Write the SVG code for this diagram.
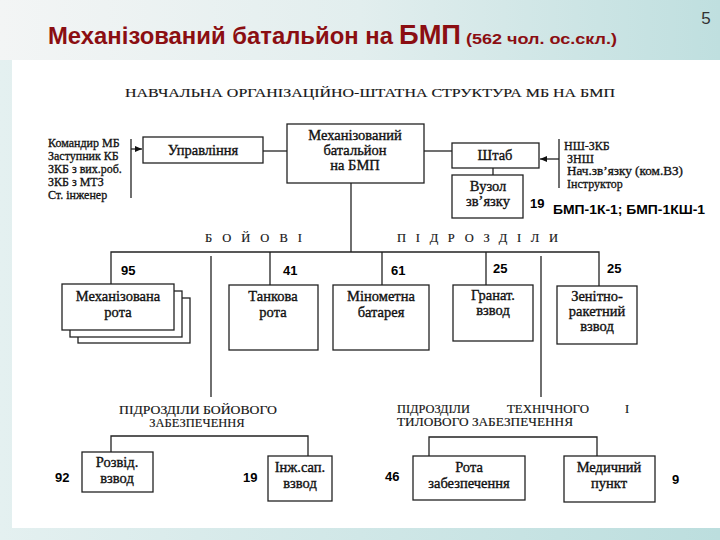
<svg xmlns="http://www.w3.org/2000/svg" width="720" height="540" viewBox="0 0 720 540">
<defs>
<linearGradient id="bg" x1="0" y1="0" x2="1" y2="0">
<stop offset="0" stop-color="#f3f5f5"/>
<stop offset="0.5" stop-color="#e2eeee"/>
<stop offset="1" stop-color="#bfdfdf"/>
</linearGradient>
<linearGradient id="bgb" x1="0" y1="0" x2="1" y2="0">
<stop offset="0" stop-color="#e4f0f0"/>
<stop offset="1" stop-color="#bcdede"/>
</linearGradient>
<marker id="arr" markerWidth="8" markerHeight="8" refX="7" refY="4" orient="auto" markerUnits="userSpaceOnUse">
<path d="M0,1 L7,4 L0,7 Z" fill="#111"/>
</marker>
<style>
.box{fill:#fff;stroke:#222;stroke-width:1.3}
.ln{fill:none;stroke:#222;stroke-width:1.3}
.t{font-family:"Liberation Serif","DejaVu Serif",serif;font-size:14.5px;fill:#111;stroke:#111;stroke-width:0.35;text-anchor:middle}
.l{font-family:"Liberation Serif","DejaVu Serif",serif;font-size:12px;fill:#111;stroke:#111;stroke-width:0.3}
.h{font-family:"Liberation Serif","DejaVu Serif",serif;font-size:12.5px;fill:#151515;stroke:#151515;stroke-width:0.15}
.n{font-family:"Liberation Sans",Arial,sans-serif;font-size:13px;font-weight:bold;fill:#000}
</style>
</defs>
<rect x="0" y="0" width="720" height="540" fill="url(#bgb)"/>
<rect x="0" y="0" width="720" height="60" fill="url(#bg)"/>
<rect x="12" y="60" width="708" height="468" fill="#fff"/>

<g id="title">
<text x="48" y="44" font-family="Liberation Sans,Arial,sans-serif" font-weight="bold" font-size="23" fill="#8b0e12" textLength="345" lengthAdjust="spacingAndGlyphs">Механізований батальйон на</text>
<text x="399" y="44" font-family="Liberation Sans,Arial,sans-serif" font-weight="bold" font-size="28" fill="#8b0e12" textLength="62" lengthAdjust="spacingAndGlyphs">БМП</text>
<text x="466" y="44" font-family="Liberation Sans,Arial,sans-serif" font-weight="bold" font-size="15.5" fill="#8b0e12" textLength="151" lengthAdjust="spacingAndGlyphs">(562 чол. ос.скл.)</text>
<text x="706" y="24" font-family="Liberation Sans,Arial,sans-serif" font-size="17" fill="#333" text-anchor="middle">5</text>
<text x="125" y="97" class="h" font-size="13" textLength="490" lengthAdjust="spacingAndGlyphs">НАВЧАЛЬНА ОРГАНІЗАЦІЙНО-ШТАТНА СТРУКТУРА МБ НА БМП</text>
</g>

<g id="connectors">
<line class="ln" x1="131" y1="139" x2="131" y2="198"/>
<line class="ln" x1="131" y1="149" x2="142" y2="149" marker-end="url(#arr)"/>
<line class="ln" x1="263" y1="151" x2="287" y2="151"/>
<line class="ln" x1="424" y1="151" x2="452" y2="151"/>
<line class="ln" x1="559" y1="139" x2="559" y2="188"/>
<line class="ln" x1="559" y1="159" x2="540" y2="159" marker-end="url(#arr)"/>
<line class="ln" x1="493" y1="168" x2="493" y2="175"/>
<line class="ln" x1="351" y1="183" x2="351" y2="252"/>
<polyline class="ln" points="111,284 111,252 599,252 599,286"/>
<line class="ln" x1="270" y1="252" x2="270" y2="285"/>
<line class="ln" x1="382" y1="252" x2="382" y2="285"/>
<line class="ln" x1="486" y1="252" x2="486" y2="285"/>
<line class="ln" x1="211" y1="256" x2="211" y2="397"/>
<line class="ln" x1="541" y1="256" x2="541" y2="397"/>
<polyline class="ln" points="111,452 111,436 308,436 308,456"/>
<polyline class="ln" points="429,456 429,437 597,437 597,456"/>
</g>

<g id="staff-left">
<text class="l" x="48" y="147" font-size="12.5">Командир МБ</text>
<text class="l" x="48" y="160" font-size="12.5">Заступник КБ</text>
<text class="l" x="48" y="173" font-size="12.5">ЗКБ з вих.роб.</text>
<text class="l" x="48" y="186" font-size="12.5">ЗКБ з МТЗ</text>
<text class="l" x="48" y="199" font-size="12.5">Ст. інженер</text>
</g>

<g id="upravlinnia">
<rect class="box" x="143" y="137" width="120" height="26"/>
<text class="t" x="203" y="155">Управління</text>
</g>

<g id="battalion">
<rect class="box" x="287" y="124" width="137" height="59"/>
<text class="t" x="355" y="140">Механізований</text>
<text class="t" x="355" y="155">батальйон</text>
<text class="t" x="355" y="170">на БМП</text>
</g>

<g id="shtab">
<rect class="box" x="452" y="143" width="87" height="25"/>
<text class="t" x="495" y="160">Штаб</text>
</g>

<g id="staff-right">
<text class="l" x="564" y="150">НШ-ЗКБ</text>
<text class="l" x="567" y="162.5">ЗНШ</text>
<text class="l" x="567" y="175" textLength="116" lengthAdjust="spacingAndGlyphs">Нач.зв’язку (ком.ВЗ)</text>
<text class="l" x="567" y="187.5">Інструктор</text>
</g>

<g id="vuzol">
<rect class="box" x="452" y="175" width="71" height="43"/>
<text class="t" x="488" y="191">Вузол</text>
<text class="t" x="488" y="206">зв’язку</text>
<text class="n" x="530" y="208">19</text>
<text class="n" x="553" y="214" font-size="13.5" textLength="152" lengthAdjust="spacingAndGlyphs">БМП-1К-1; БМП-1КШ-1</text>
</g>

<g id="combat-label">
<text class="h" x="205" y="242" font-size="13" textLength="97" lengthAdjust="spacing">БОЙОВІ</text>
<text class="h" x="397" y="242" font-size="13" textLength="161" lengthAdjust="spacing">ПІДРОЗДІЛИ</text>
</g>

<g id="mech-company">
<rect class="box" x="78" y="298" width="112" height="45"/>
<rect class="box" x="70" y="291" width="112" height="46"/>
<rect class="box" x="62" y="284" width="112" height="46"/>
<text class="t" x="118" y="301">Механізована</text>
<text class="t" x="118" y="317">рота</text>
<text class="n" x="121" y="275">95</text>
</g>

<g id="tank-company">
<rect class="box" x="229" y="285" width="89" height="65"/>
<text class="t" x="273" y="301">Танкова</text>
<text class="t" x="273" y="317">рота</text>
<text class="n" x="283" y="275">41</text>
</g>

<g id="mortar-battery">
<rect class="box" x="333" y="285" width="96" height="65"/>
<text class="t" x="381" y="301">Мінометна</text>
<text class="t" x="381" y="317">батарея</text>
<text class="n" x="391" y="275">61</text>
</g>

<g id="grenade-platoon">
<rect class="box" x="453" y="285" width="80" height="56"/>
<text class="t" x="493" y="300">Гранат.</text>
<text class="t" x="493" y="315">взвод</text>
<text class="n" x="493" y="273">25</text>
</g>

<g id="aa-platoon">
<rect class="box" x="557" y="286" width="80" height="58"/>
<text class="t" x="597" y="301">Зенітно-</text>
<text class="t" x="597" y="316">ракетний</text>
<text class="t" x="597" y="331">взвод</text>
<text class="n" x="607" y="273">25</text>
</g>

<g id="combat-support-label">
<text class="h" x="119" y="414" font-size="12" textLength="158" lengthAdjust="spacingAndGlyphs">ПІДРОЗДІЛИ БОЙОВОГО</text>
<text class="h" x="197" y="427" text-anchor="middle" font-size="12">ЗАБЕЗПЕЧЕННЯ</text>
</g>

<g id="recon-platoon">
<rect class="box" x="82" y="452" width="71" height="40"/>
<text class="t" x="117" y="467">Розвід.</text>
<text class="t" x="117" y="483">взвод</text>
<text class="n" x="55" y="482">92</text>
</g>

<g id="engineer-platoon">
<rect class="box" x="268" y="456" width="64" height="45"/>
<text class="t" x="300" y="472">Інж.сап.</text>
<text class="t" x="300" y="488">взвод</text>
<text class="n" x="243" y="482">19</text>
</g>

<g id="logistics-label">
<text class="h" x="397" y="413" font-size="12" textLength="73" lengthAdjust="spacingAndGlyphs">ПІДРОЗДІЛИ</text>
<text class="h" x="507" y="413" font-size="12" textLength="82" lengthAdjust="spacingAndGlyphs">ТЕХНІЧНОГО</text>
<text class="h" x="625" y="413" font-size="12">І</text>
<text class="h" x="397" y="426" font-size="12" textLength="176" lengthAdjust="spacingAndGlyphs">ТИЛОВОГО ЗАБЕЗПЕЧЕННЯ</text>
</g>

<g id="supply-company">
<rect class="box" x="413" y="456" width="112" height="44"/>
<text class="t" x="469" y="472">Рота</text>
<text class="t" x="469" y="488">забезпечення</text>
<text class="n" x="385" y="481">46</text>
</g>

<g id="medical-point">
<rect class="box" x="564" y="456" width="91" height="46"/>
<text class="t" x="609" y="472">Медичний</text>
<text class="t" x="609" y="488">пункт</text>
<text class="n" x="672" y="484">9</text>
</g>
</svg>
